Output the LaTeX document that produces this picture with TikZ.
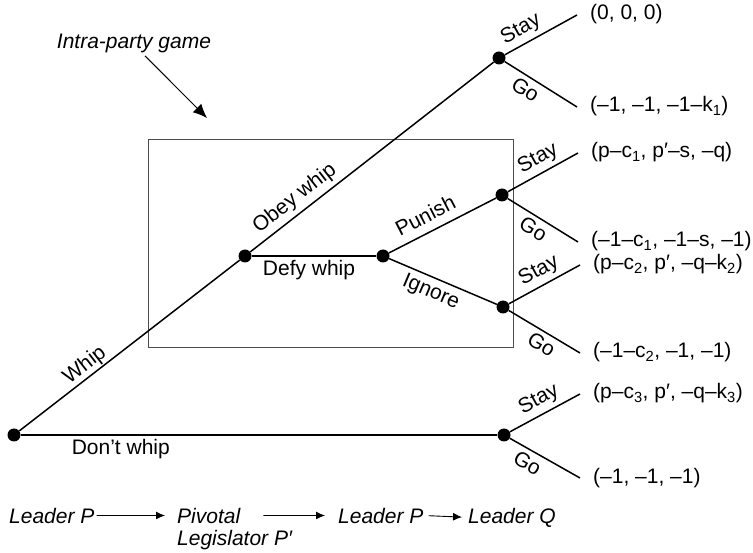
\documentclass[tikz,border=0pt]{standalone}
\usepackage{fontspec}
\setmainfont{Liberation Sans}
\usetikzlibrary{arrows.meta,positioning}

\begin{document}
\begin{tikzpicture}[
        x=1pt, y=-1pt,
        every node/.style={font=\fontsize{21}{24}\selectfont},
        dot/.style={circle, fill, inner sep=0pt, minimum size=13pt},
        branch/.style={line width=1.5pt},
        act/.style={sloped, inner sep=4pt, text height=15pt, text depth=4.5pt},
        pay/.style={anchor=west, inner xsep=13pt, inner ysep=0pt, text height=15pt, text depth=5pt},
        seq/.style={anchor=base west, inner sep=0pt, font=\fontsize{21}{24}\selectfont\itshape},
        order/.style={line width=0.9pt, -{Latex[length=9pt, width=8pt]}},
    ]
    \useasboundingbox (0,0) rectangle (753,553);

    % the intra-party game
    \node[draw=black!70, line width=0.8pt, minimum width=365pt, minimum height=208pt, inner sep=0pt] (box) at (330.5,243) {};
    \node[font=\fontsize{21}{24}\selectfont\itshape] (ipg) at (134,43) {Intra-party game};
    \coordinate (ipgtip) at (207,118);
    \draw[line width=1pt, -{Latex[length=14pt, width=12pt]}] ([xshift=11pt]ipg.south) -- (ipgtip);

    % decision nodes
    \node[dot] (root) at (14,435) {};
    \node[dot] (leg) at (245,256) {};
    \node[dot] (obey) at (499,58) {};
    \node[dot] (defy) at (383,256) {};
    \node[dot] (pun) at (502,195) {};
    \node[dot] (ign) at (503,307) {};
    \node[dot] (nowhip) at (504,435) {};

    % payoffs
    \node[pay] (p1) at (577,15) {(0, 0, 0)};
    \node[pay] (p2) at (577,107) {(–1, –1, –1–k\textsubscript{1})};
    \node[pay] (p3) at (578,153) {(p–c\textsubscript{1}, p′–s, –q)};
    \node[pay] (p4) at (578,242) {(–1–c\textsubscript{1}, –1–s, –1)};
    \node[pay] (p5) at (580,265) {(p–c\textsubscript{2}, p′, –q–k\textsubscript{2})};
    \node[pay] (p6) at (580,353) {(–1–c\textsubscript{2}, –1, –1)};
    \node[pay] (p7) at (580,394) {(p–c\textsubscript{3}, p′, –q–k\textsubscript{3})};
    \node[pay] (p8) at (580,478) {(–1, –1, –1)};

    % moves
    \draw[branch] (root) -- node[act, above, pos=.33, inner sep=1pt] {Whip} (leg);
    \draw[branch] (leg) -- node[act, above, pos=.22] {Obey whip} (obey);
    \draw[branch] (leg) -- node[act, below, pos=.46] {Defy whip} (defy);
    \draw[branch] (defy) -- node[act, above, pos=.41] {Punish} (pun);
    \draw[branch] (defy) -- node[act, below, pos=.44] {Ignore} (ign);
    \draw[branch] (root) -- node[act, below, pos=.21] {Don’t whip} (nowhip);

    \draw[branch] (obey) -- node[act, above, pos=.32] {Stay} (p1.west);
    \draw[branch] (obey) -- node[act, below, pos=.38] {Go} (p2.west);
    \draw[branch] (pun) -- node[act, above, pos=.53] {Stay} (p3.west);
    \draw[branch] (pun) -- node[act, below, pos=.46] {Go} (p4.west);
    \draw[branch] (ign) -- node[act, above, pos=.52] {Stay} (p5.west);
    \draw[branch] (ign) -- node[act, below, pos=.55] {Go} (p6.west);
    \draw[branch] (nowhip) -- node[act, above, pos=.51] {Stay} (p7.west);
    \draw[branch] (nowhip) -- node[act, below, pos=.34] {Go} (p8.west);

    % order of play
    \node[seq] (lp1) at (9,523) {Leader P};
    \node[seq] (pv) at (177,523) {Pivotal};
    \node[seq, below=22pt of pv.base west, anchor=base west] (lg) {Legislator P′};
    \node[seq] (lp2) at (338,523) {Leader P};
    \node[seq] (lq) at (468,523) {Leader Q};
    \draw[order, shorten <=2pt, shorten >=12pt] (lp1.east) -- (pv.west);
    \draw[order, shorten <=23pt, shorten >=13pt] (pv.east) -- (lp2.west);
    \draw[order, shorten <=5pt, shorten >=6pt] (lp2.east) -- (lq.west);
\end{tikzpicture}
\end{document}
